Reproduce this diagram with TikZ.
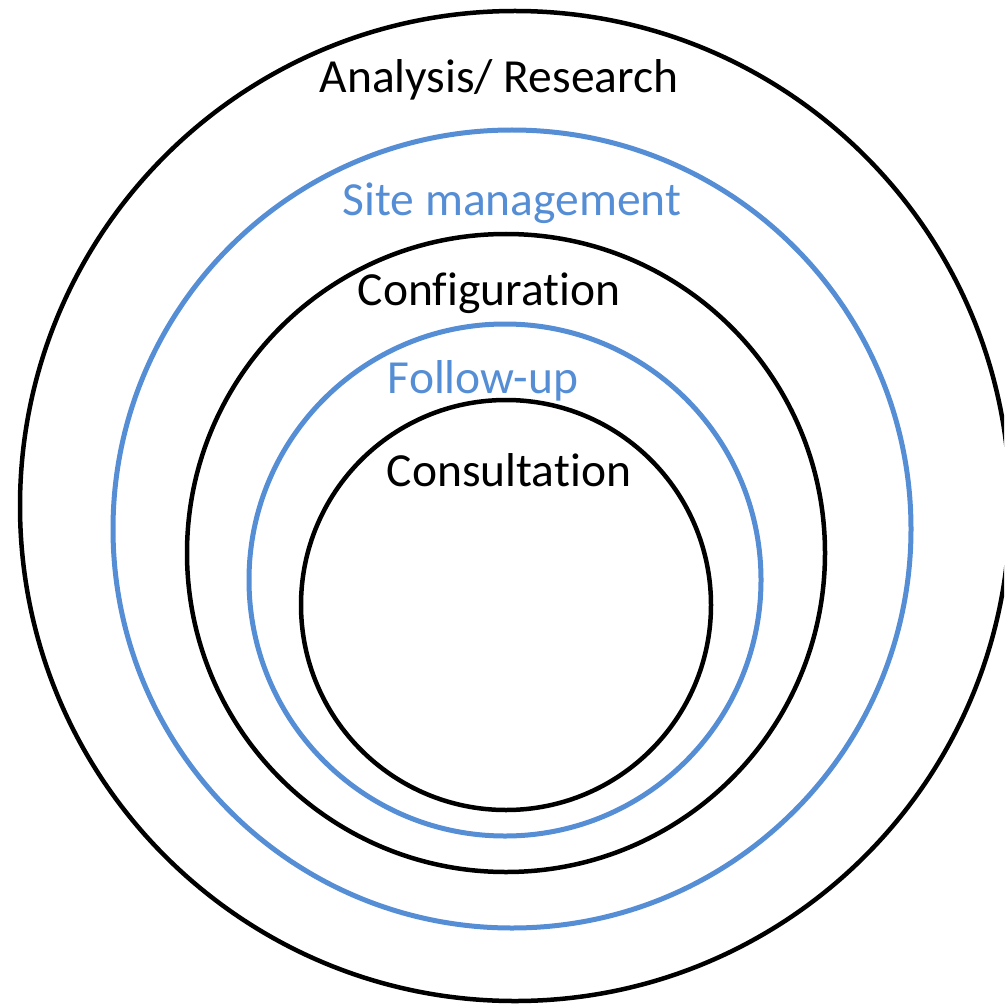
\documentclass[tikz,border=0pt]{standalone}
\usepackage{fontspec}
\setmainfont{Carlito}[RawFeature={-liga,-clig,-calt}]
\definecolor{ringblue}{RGB}{85,142,213}
% keep "t" and "i" as separate glyphs
\newcommand{\tsep}{t\kern0pt i}
\begin{document}
\begin{tikzpicture}[x=1pt,y=-1pt,
  ring/.style={draw=black,line width=4.5pt},
  bluering/.style={draw=ringblue,line width=5pt},
  lbl/.style={anchor=base,inner sep=0pt,font=\fontsize{47.5}{52}\selectfont}]
  \useasboundingbox (0,0) rectangle (1004,1008);
  \begin{scope}
    \clip (0,0) rectangle (1004,1008);
    \draw[ring] (515,506) circle[radius=495];
  \end{scope}
  \draw[bluering] (512,529) circle[radius=399];
  \draw[ring] (506,553) circle[radius=319];
  \draw[bluering] (505,580) circle[radius=256];
  \draw[ring] (506,605) circle[radius=205];
  \node[lbl] (analysis) at (499,93) {Analysis/ Research};
  \node[lbl,text=ringblue] (site) at (512,215) {Site management};
  \node[lbl] (config) at (489,305) {Configura\tsep on};
  \node[lbl,text=ringblue] (follow) at (483,393) {Follow-up};
  \node[lbl] (consult) at (509,486) {Consulta\tsep on};
\end{tikzpicture}
\end{document}
